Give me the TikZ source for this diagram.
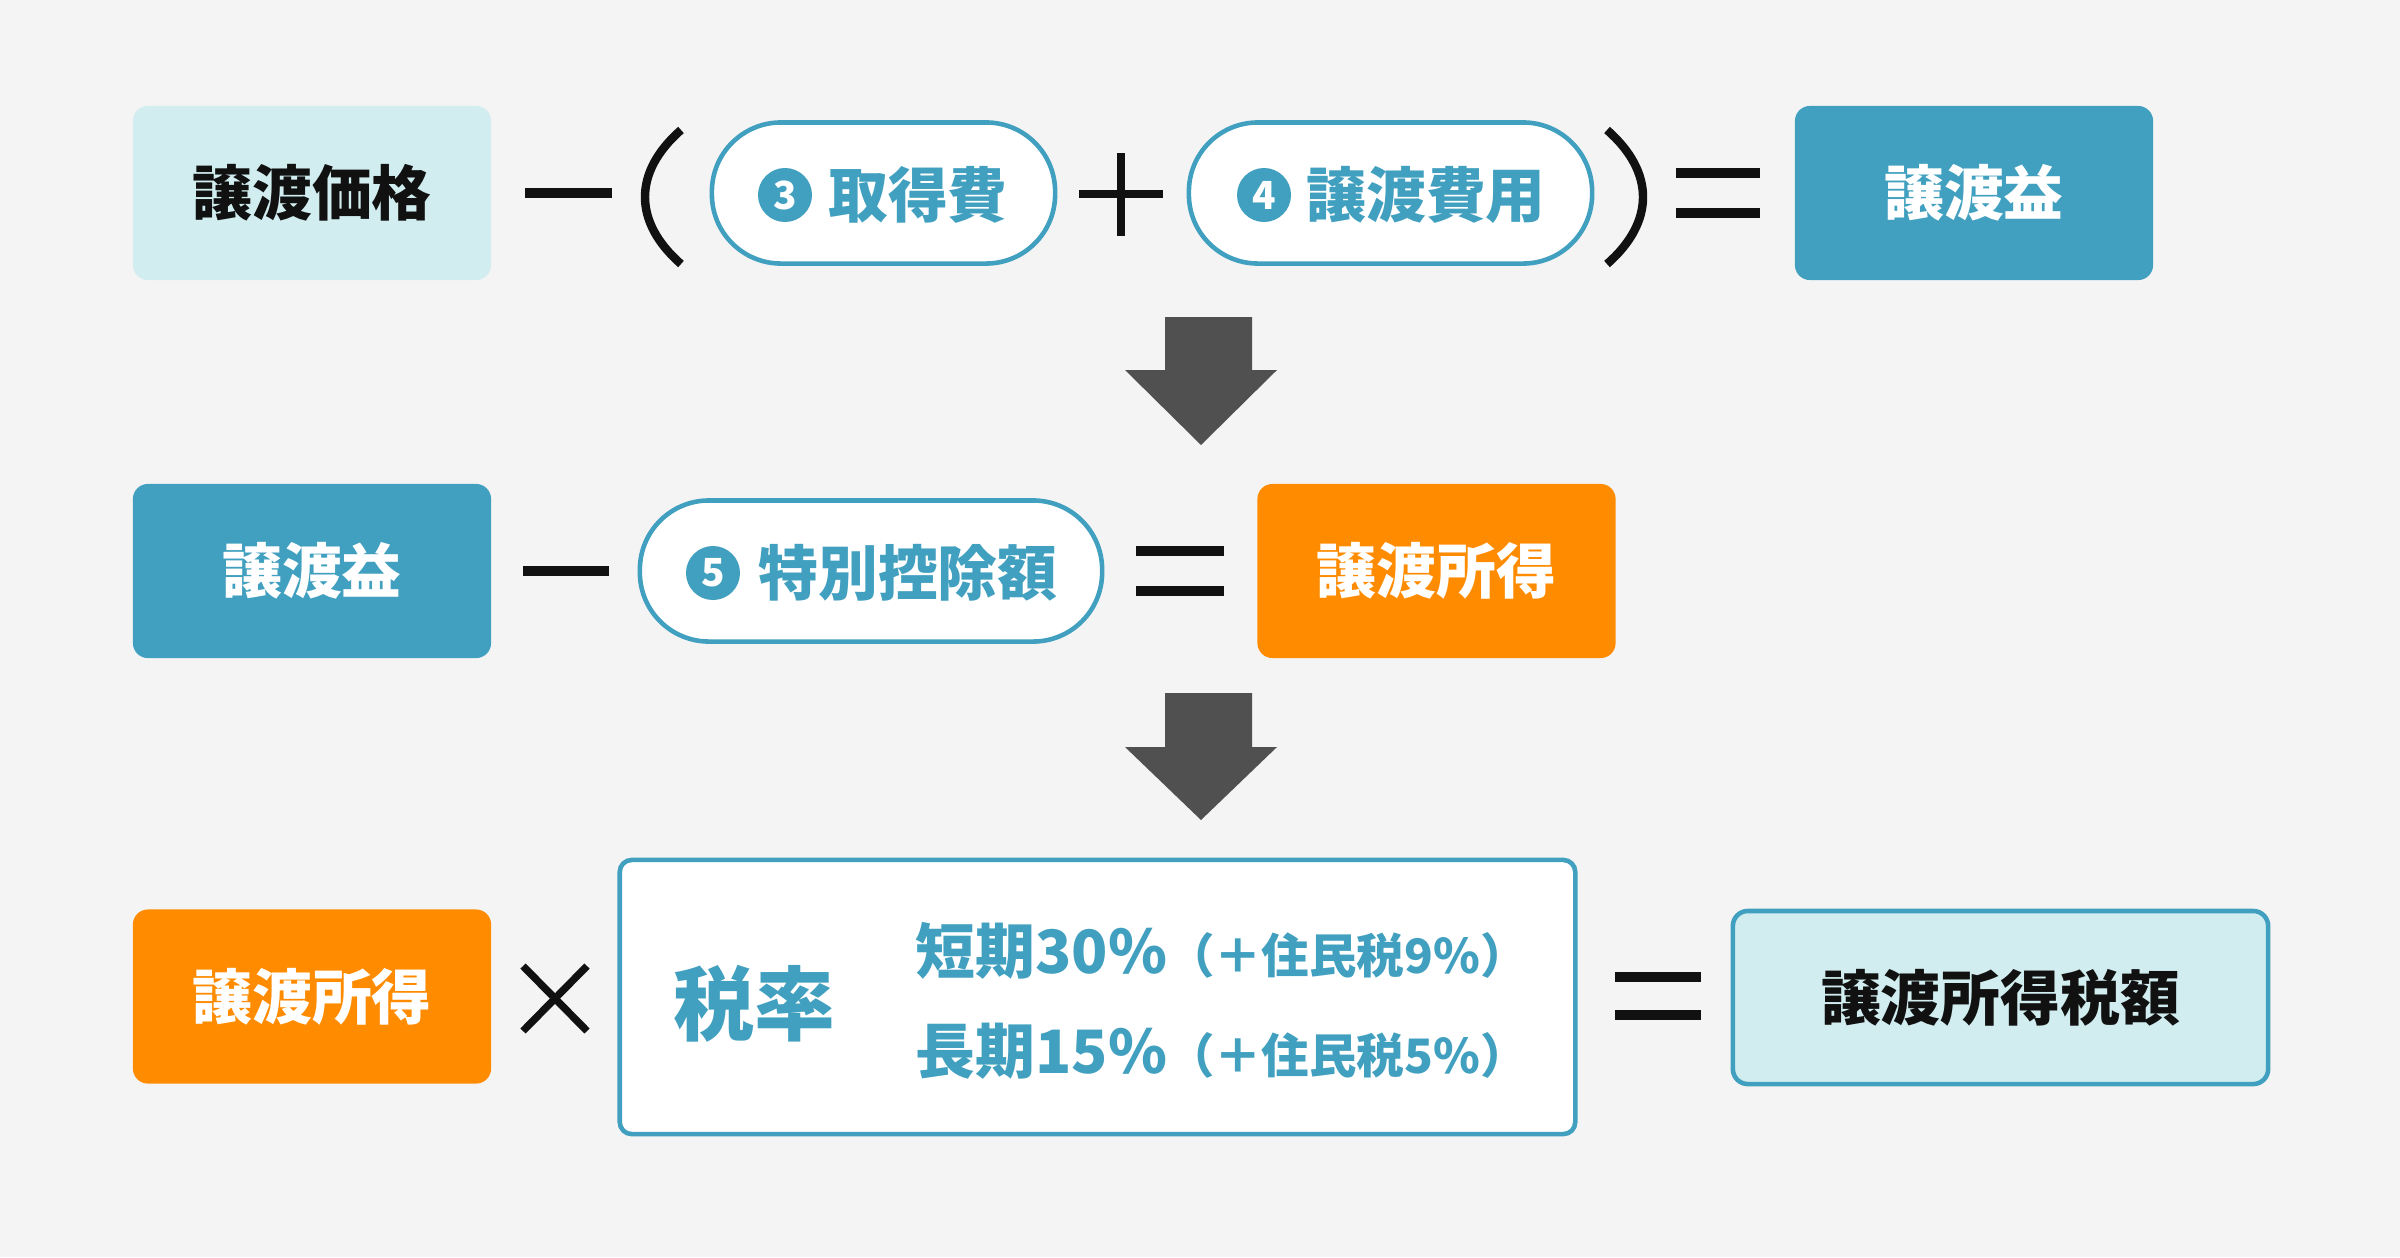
\documentclass[tikz,border=0pt]{standalone}
\usepackage{fontspec}
\setmainfont{Noto Sans CJK JP}
\definecolor{bg}{HTML}{F4F4F4}
\definecolor{lcyan}{HTML}{D1EDEF}
\definecolor{tealc}{HTML}{41A0BF}
\definecolor{orangec}{HTML}{FF8C00}
\definecolor{arrowgray}{HTML}{505050}
\definecolor{ink}{HTML}{111111}
\tikzset{
  boxbase/.style={rounded corners=0.15cm, minimum width=3.58cm, minimum height=1.74cm, inner sep=0pt, font=\bfseries\fontsize{17}{20}\selectfont},
  lbox/.style={boxbase, fill=lcyan, text=ink},
  tbox/.style={boxbase, fill=tealc, text=white},
  obox/.style={boxbase, fill=orangec, text=white},
  pill/.style={draw=tealc, line width=1.3pt, fill=white, rounded corners=0.69cm, minimum height=1.41cm, inner sep=0pt},
  pilltext/.style={text=tealc, inner sep=0pt, font=\bfseries\fontsize{17}{20}\selectfont},
  numdot/.style={circle, fill=tealc, text=white, minimum size=0.54cm, inner sep=0pt, font=\bfseries\fontsize{11}{13}\selectfont},
  opline/.style={draw=ink, line width=2.8pt},
  opthin/.style={draw=ink, line width=2.1pt},
  paren/.style={draw=ink, line width=2.4pt},
  blockarrow/.style={fill=arrowgray},
}
\begin{document}
\begin{tikzpicture}[x=0.01cm, y=-0.01cm]
\fill[bg] (0,0) rectangle (2400,1257);
\useasboundingbox (0,0) rectangle (2400,1257);

% ---------- Row 1 ----------
\node[lbox] (price) at (312,193) {譲渡価格};
\draw[opline] (525,193) -- (612,193);
\draw[paren] (681,130) .. controls (633,172) and (633,222) .. (681,264);
\node[pill, minimum width=3.43cm] (pill3) at (883.5,193) {};
\node[numdot] (n3) at (785,195) {3};
\node[pilltext] (t3) at (918,195) {取得費};
\draw[opthin] (1079,194) -- (1163,194);
\draw[opthin] (1121,153) -- (1121,236);
\node[pill, minimum width=4.03cm] (pill4) at (1390.5,193) {};
\node[numdot] (n4) at (1264,195) {4};
\node[pilltext] (t4) at (1426,195) {譲渡費用};
\draw[paren] (1607,130) .. controls (1655,172) and (1655,222) .. (1607,264);
\draw[opline] (1676,173) -- (1760,173);
\draw[opline] (1676,213) -- (1760,213);
\node[tbox] (gain1) at (1974,193) {譲渡益};

% arrow 1
\fill[blockarrow] (1165,317) -- (1252,317) -- (1252,370) -- (1277,370) -- (1201,445) -- (1125,370) -- (1165,370) -- cycle;

% ---------- Row 2 ----------
\node[tbox] (gain2) at (312,571) {譲渡益};
\draw[opline] (523,571) -- (609,571);
\node[pill, minimum width=4.62cm] (pill5) at (871,571) {};
\node[numdot] (n5) at (713,573) {5};
\node[pilltext] (t5) at (908,573) {特別控除額};
\draw[opline] (1136,551) -- (1224,551);
\draw[opline] (1136,591) -- (1224,591);
\node[obox] (income1) at (1436.5,571) {譲渡所得};

% arrow 2
\fill[blockarrow] (1165,693) -- (1252,693) -- (1252,747) -- (1277,747) -- (1201,820) -- (1125,747) -- (1165,747) -- cycle;

% ---------- Row 3 ----------
\node[obox] (income2) at (312,996.5) {譲渡所得};
\draw[opthin] (523,966) -- (587,1031);
\draw[opthin] (587,966) -- (523,1031);
\node[draw=tealc, line width=1.3pt, fill=white, rounded corners=0.12cm, minimum width=9.55cm, minimum height=2.74cm] (ratebox) at (1097.5,997) {};
\node[text=tealc, inner sep=0pt, font=\bfseries\fontsize{23}{26}\selectfont] (rate) at (754,1004) {税率};
\node[text=tealc, inner sep=0pt, anchor=west, font=\bfseries] (short) at (915,951)
  {{\fontsize{17}{20}\selectfont 短期30\%}{\fontsize{13.5}{16}\selectfont （＋住民税9\%）}};
\node[text=tealc, inner sep=0pt, anchor=west, font=\bfseries] (long) at (915,1051)
  {{\fontsize{17}{20}\selectfont 長期15\%}{\fontsize{13.5}{16}\selectfont （＋住民税5\%）}};
\draw[opline] (1615,977) -- (1701,977);
\draw[opline] (1615,1015) -- (1701,1015);
\node[lbox, draw=tealc, line width=1.3pt, minimum width=5.35cm, minimum height=1.73cm] (tax) at (2000.5,997.5) {譲渡所得税額};
\end{tikzpicture}
\end{document}
